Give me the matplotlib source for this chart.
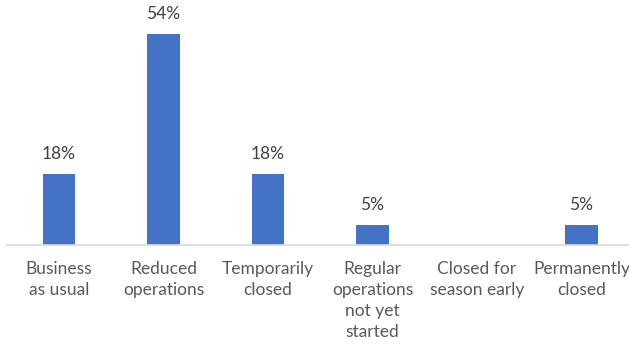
import matplotlib
matplotlib.use("Agg")
import matplotlib.pyplot as plt

categories = ["Business\nas usual", "Reduced\noperations", "Temporarily\nclosed",
              "Regular\noperations\nnot yet\nstarted", "Closed for\nseason early",
              "Permanently\nclosed"]
values = [18, 54, 18, 5, 0, 5]
value_labels = ["18%", "54%", "18%", "5%", "", "5%"]

plt.rcParams['font.family'] = ['Lato', 'DejaVu Sans']

W, H, DPI = 629, 350, 100
fig = plt.figure(figsize=(W / DPI, H / DPI), dpi=DPI)
left = 6.75 / W
bottom = 1 - 244.5 / H
top_px = 244.5 - 60 * (210.5 / 54)
height = (244.5 - top_px) / H
ax = fig.add_axes([left, bottom, 627 / W, height])

x = list(range(len(categories)))
bars = ax.bar(x, values, width=0.31, color="#4472C4", zorder=2)
ax.set_xlim(-0.5, 5.5)
ax.set_ylim(0, 60)

for xi, v, lab in zip(x, values, value_labels):
    if lab:
        ax.annotate(lab, (xi, v), xytext=(0, 10.8), textcoords="offset points",
                    ha="center", va="baseline", fontsize=12.5, color="#404040")

ax.set_xticks(x)
ax.set_xticklabels(categories, fontsize=12.5, color="#595959", linespacing=1.38)
ax.tick_params(axis="x", length=0, pad=12)
ax.set_yticks([])
for s in ["top", "right", "left"]:
    ax.spines[s].set_visible(False)
ax.spines["bottom"].set_color("#D9D9D9")
ax.spines["bottom"].set_linewidth(1.2)

fig.savefig("out.png", dpi=DPI)
